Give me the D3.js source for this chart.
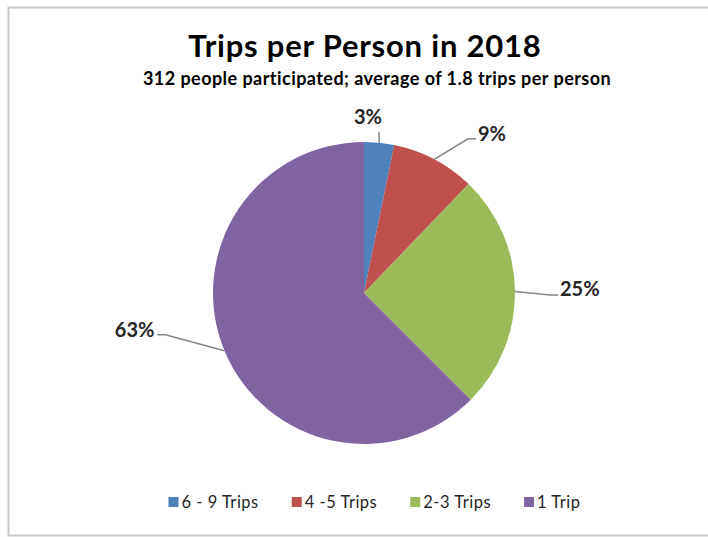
<!DOCTYPE html>
<html>
<head>
<meta charset="utf-8">
<script src="https://cdn.jsdelivr.net/npm/d3@7"></script>
<style>
  body { margin: 0; background: #fff; }
  text { font-family: Lato, "Open Sans", sans-serif; fill: #000; }
  .title { font-size: 31px; font-weight: bold; letter-spacing: 0.8px; }
  .subtitle { font-size: 18px; font-weight: bold; letter-spacing: 0.45px; }
  .pct { font-size: 20px; font-weight: bold; fill: #262626; }
  .legend text { font-size: 16.5px; fill: #262626; letter-spacing: 0.5px; }
  .leader { stroke: #858585; stroke-width: 1.5; fill: none; }
</style>
</head>
<body>
<div id="chart"></div>
<script>
var w = 708;
var h = 537;

// data
var categories = ["6 - 9 Trips", "4 -5 Trips", "2-3 Trips", "1 Trip"];
var people = [10, 28, 79, 195];
var pctLabels = ["3%", "9%", "25%", "63%"];
var colors = ["#4F81BD", "#C0504D", "#9BBB59", "#8064A2"];

var titleText = "Trips per Person in 2018";
var subtitleText = "312 people participated; average of 1.8 trips per person";

// label placement (angle in degrees from 12 o'clock, radius from centre)
var labelLayout = [
    { a: 5.3, r: 162, tail: 0, anchor: "middle", dx: -11, dy: -8 },
    { a: 34.0, r: 186, tail: 8, anchor: "start", dx: 2, dy: 2 },
    { a: 90.6, r: 186, tail: 8, anchor: "start", dx: 2, dy: 1 },
    { a: 258.1, r: 203, tail: -8, anchor: "end", dx: -3, dy: 2 }
];

var cx = 364, cy = 293, radius = 151;

var svg = d3.select("#chart").append("svg").attr("width", w).attr("height", h);

// chart border
svg.append("rect")
    .attr("x", 8.5).attr("y", 7.5)
    .attr("width", 720).attr("height", 528)
    .attr("fill", "#fff")
    .attr("stroke", "#c9c9c9")
    .attr("stroke-width", 2);

svg.append("text")
    .attr("class", "title")
    .attr("x", 365).attr("y", 57)
    .attr("text-anchor", "middle")
    .text(titleText);

svg.append("text")
    .attr("class", "subtitle")
    .attr("x", 377).attr("y", 85)
    .attr("text-anchor", "middle")
    .text(subtitleText);

var dataset = categories.map(function (c, i) {
    return { name: c, value: people[i], label: pctLabels[i], color: colors[i], layout: labelLayout[i] };
});

var pie = d3.pie()
    .sort(null)
    .value(function (d) { return d.value; });

var arc = d3.arc().innerRadius(0).outerRadius(radius);

var g = svg.append("g").attr("transform", "translate(" + cx + "," + cy + ")");

var arcs = pie(dataset);

g.selectAll("path.slice")
    .data(arcs)
    .enter().append("path")
    .attr("class", "slice")
    .attr("d", arc)
    .attr("fill", function (d) { return d.data.color; });

// ****** leader lines and labels ******
arcs.forEach(function (d) {
    var mid = (d.startAngle + d.endAngle) / 2;
    var edge = d3.pointRadial(mid, radius);
    var L = d.data.layout;
    var elbow = d3.pointRadial(L.a * Math.PI / 180, L.r);
    var end = [elbow[0] + L.tail, elbow[1]];

    g.append("polyline")
        .attr("class", "leader")
        .attr("points", [edge, elbow, end].map(function (p) { return p.join(","); }).join(" "));

    g.append("text")
        .attr("class", "pct")
        .attr("x", end[0] + L.dx)
        .attr("y", end[1] + L.dy)
        .attr("text-anchor", L.anchor)
        .text(d.data.label);
});

// ****** legend ******
var legend = svg.append("g").attr("class", "legend");
var box = 10, gap = 3, itemGap = 33;
var items = legend.selectAll("g")
    .data(dataset)
    .enter().append("g");

items.append("rect")
    .attr("width", box).attr("height", box)
    .attr("y", 497)
    .attr("fill", function (d) { return d.color; });

items.append("text")
    .attr("x", box + gap)
    .attr("y", 507.5)
    .text(function (d) { return d.name; });

var xPos = 0;
var offsets = [];
items.each(function () {
    offsets.push(xPos);
    xPos += box + gap + this.querySelector("text").getComputedTextLength() + itemGap;
});
var total = xPos - itemGap;
var startX = 374.5 - total / 2;
items.attr("transform", function (d, i) { return "translate(" + (startX + offsets[i]) + ",0)"; });
</script>
</body>
</html>
